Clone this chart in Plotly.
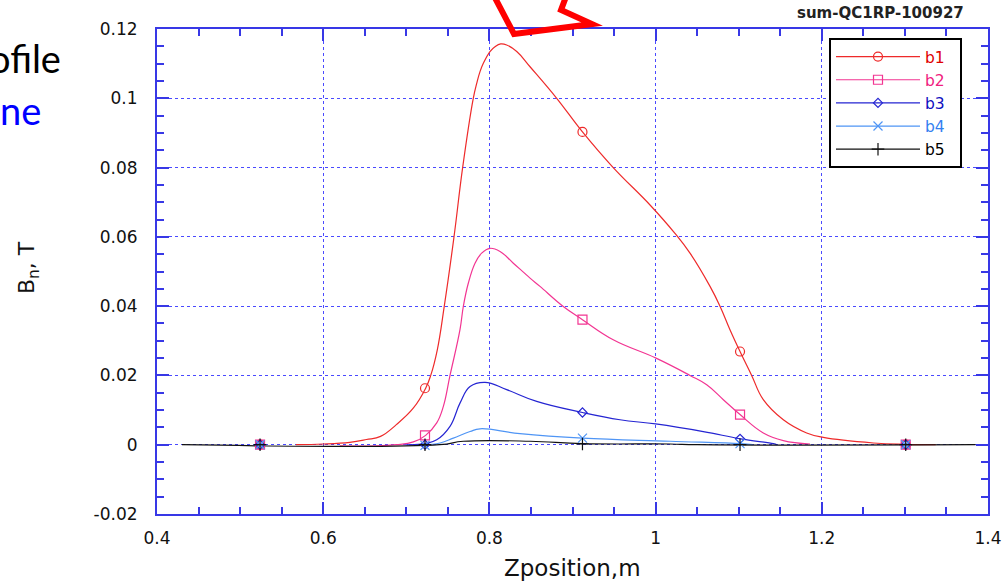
import plotly.graph_objects as go

# ---- profile data (Z position in m, field in T) ----
b1_z = [0.567, 0.60, 0.632, 0.652, 0.669, 0.688, 0.7086, 0.7233, 0.7294, 0.7373, 0.7457, 0.7574,
        0.7678, 0.7806, 0.7847, 0.7887, 0.7927, 0.8007, 0.8067, 0.8136, 0.8208, 0.8329, 0.8489,
        0.881, 0.912, 0.949, 0.9933, 1.0233, 1.0414, 1.0655, 1.0775, 1.0895, 1.1016, 1.1156,
        1.1296, 1.1537, 1.1818, 1.2018, 1.262, 1.30, 1.337]
b1_v = [0, 0.0002, 0.0007, 0.0015, 0.0024, 0.0058, 0.0106, 0.0163, 0.02, 0.0274, 0.04, 0.06,
        0.08, 0.1, 0.1043, 0.1077, 0.1101, 0.1135, 0.1149, 0.1157, 0.1154, 0.1135, 0.1091,
        0.1, 0.0903, 0.08, 0.0692, 0.061, 0.0553, 0.0457, 0.04, 0.0332, 0.0269, 0.02,
        0.013, 0.0072, 0.0034, 0.0021, 0.0005, 0.0001, 0]

b2_z = [0.62, 0.64, 0.666, 0.688, 0.7085, 0.7233, 0.7366, 0.7445, 0.7526, 0.7646, 0.7686, 0.7746,
        0.7827, 0.7907, 0.8007, 0.8128, 0.8288, 0.8489, 0.8609, 0.8889, 0.912, 0.949, 1.0005,
        1.0414, 1.0615, 1.0815, 1.1016, 1.1296, 1.1537, 1.1858]
b2_v = [-0.0003, -0.0004, -0.0003, 0, 0.0008, 0.0027, 0.0063, 0.011, 0.02, 0.0332, 0.0399, 0.0466,
        0.0524, 0.0553, 0.0567, 0.0558, 0.0524, 0.0481, 0.0457, 0.0399, 0.0361, 0.0303, 0.025,
        0.02, 0.0173, 0.013, 0.0087, 0.0034, 0.0012, 0.0002]

b3_z = [0.70, 0.7225, 0.7366, 0.7526, 0.7646, 0.7767, 0.7947, 0.8208, 0.8569, 0.912, 0.9572,
        1.0, 1.0574, 1.1024, 1.1417, 1.146]
b3_v = [0, 0.0003, 0.0014, 0.0053, 0.012, 0.0168, 0.018, 0.0159, 0.0125, 0.0093, 0.0072,
        0.006, 0.0038, 0.0017, 0.0003, 0]

b4_z = [0.72, 0.7406, 0.7566, 0.7767, 0.7887, 0.8368, 0.912, 1.0174, 1.1024, 1.117]
b4_v = [0, 0.0005, 0.0019, 0.0038, 0.0046, 0.0032, 0.0019, 0.001, 0.0003, 0]

b5_z = [0.43, 0.74, 0.7686, 0.849, 0.912, 1.017, 1.05, 1.385]
b5_v = [0, 0, 0.001, 0.001, 0.0003, 0.0002, 0, 0]

# ---- measurement points ----
mk_z = [0.524, 0.7225, 0.912, 1.1016, 1.301]
b1_m = [0, 0.0163, 0.0903, 0.0269, 0]
b2_m = [0, 0.0027, 0.0361, 0.0087, 0]
b3_m = [0, 0, 0.0093, 0.0017, 0]
b4_m = [0, -0.0002, 0.0019, 0.0003, 0]
b5_m = [0, 0, 0.0002, 0, 0]

# ---- axis ticks ----
x_ticks = [0.4, 0.6, 0.8, 1.0, 1.2, 1.4]
x_tick_labels = ["0.4", "0.6", "0.8", "1", "1.2", "1.4"]
y_ticks = [-0.02, 0, 0.02, 0.04, 0.06, 0.08, 0.1, 0.12]
y_tick_labels = ["-0.02", "0", "0.02", "0.04", "0.06", "0.08", "0.1", "0.12"]

series = [
    # name, curve z, curve v, marker v, line colour, label colour, symbol, size
    ("b1", b1_z, b1_v, b1_m, "#ee2a2a", "#e00000", "circle-open", 9),
    ("b2", b2_z, b2_v, b2_m, "#f23592", "#f0207f", "square-open", 9),
    ("b3", b3_z, b3_v, b3_m, "#2525d2", "#1010c0", "diamond-open", 7),
    ("b4", b4_z, b4_v, b4_m, "#4f95f5", "#3380f0", "x-thin-open", 9),
    ("b5", b5_z, b5_v, b5_m, "#111111", "#000000", "cross-thin-open", 9),
]

W, H = 1004, 583
L, R, T, B = 157, 988, 29, 514
AX = "#3838e6"
FONT = "DejaVu Sans"


def px2paper(px, py):
    return (px - L) / (R - L), (B - py) / (B - T)


fig = go.Figure()

for name, cz, cv, mv, lc, tc, sym, ms in series:
    fig.add_trace(go.Scatter(
        x=cz, y=cv, mode="lines", showlegend=False, hoverinfo="skip",
        line=dict(color=lc, width=1.2, shape="spline", smoothing=1.2)))

for name, cz, cv, mv, lc, tc, sym, ms in series:
    fig.add_trace(go.Scatter(
        x=mk_z, y=mv, mode="markers", showlegend=False, cliponaxis=False,
        marker=dict(symbol=sym, size=ms, color=lc, line=dict(color=lc, width=1.2))))

# legend entries (line with centred marker)
NB = "\u00a0"
for name, cz, cv, mv, lc, tc, sym, ms in series:
    fig.add_trace(go.Scatter(
        x=[None], y=[None], mode="lines+markers",
        name=f'<span style="color:{tc}">{name}</span>{NB * 2}',
        line=dict(color=lc, width=1.2),
        marker=dict(symbol=sym, size=ms, color=lc, line=dict(color=lc, width=1.2))))

axis_common = dict(
    ticks="inside", ticklen=12, tickwidth=1.5, tickcolor=AX,
    showline=True, linecolor=AX, linewidth=2, mirror="allticks",
    showgrid=True, gridcolor="#4a4aff", griddash="dot", gridwidth=1,
    zeroline=False, automargin=False,
    tickfont=dict(family=FONT, size=17, color="#111111"),
)

fig.update_xaxes(range=[0.4, 1.4], tickvals=x_ticks, ticktext=x_tick_labels,
                 minor=dict(dtick=0.05, tick0=0.4, ticks="inside", ticklen=7,
                            tickwidth=1.5, tickcolor=AX, showgrid=False),
                 ticklabelstandoff=8, **axis_common)
fig.update_yaxes(range=[-0.02, 0.12], tickvals=y_ticks, ticktext=y_tick_labels,
                 minor=dict(dtick=0.005, tick0=0, ticks="inside", ticklen=7,
                            tickwidth=1.5, tickcolor=AX, showgrid=False),
                 ticklabelstandoff=14, **axis_common)

lx, ly = px2paper(829, 38)
fig.update_layout(
    width=W, height=H,
    margin=dict(l=L, r=W - R, t=T, b=H - B, pad=0, autoexpand=False),
    paper_bgcolor="white", plot_bgcolor="white",
    font=dict(family=FONT, color="#111111"),
    legend=dict(x=lx, y=ly, xanchor="left", yanchor="top",
                bordercolor="black", borderwidth=2, bgcolor="white",
                font=dict(family=FONT, size=15.5), itemwidth=84,
                tracegroupgap=0),
)


def note(px, py, text, size, color, family=FONT, xanchor="center", angle=0):
    x, y = px2paper(px, py)
    return dict(x=x, y=y, xref="paper", yref="paper", showarrow=False,
                xanchor=xanchor, yanchor="middle", textangle=angle, text=text,
                font=dict(family=family, size=size, color=color))


fig.update_layout(annotations=[
    note(880, 13, "<b>sum-QC1RP-100927</b>", 15, "#222222"),
    note(572, 568, "Zposition,m", 23, "#111111"),
    note(28, 268, "B<sub>n</sub>, T", 22, "#111111", angle=-90),
    note(63, 58, "ofile", 38, "#000000", family="Lato", xanchor="right"),
    note(43, 110, "ne", 38, "#0000ff", family="Lato", xanchor="right"),
])

# red callout arrow at the top of the frame
pts = [px2paper(*p) for p in [(493, -6), (514, 34), (592, 24), (561, 10), (567, -6)]]
path = "M " + " L ".join(f"{x:.4f},{y:.4f}" for x, y in pts)
fig.add_shape(type="path", path=path, xref="paper", yref="paper", layer="above",
              line=dict(color="#ff0000", width=6))

fig.write_html("out.html")
